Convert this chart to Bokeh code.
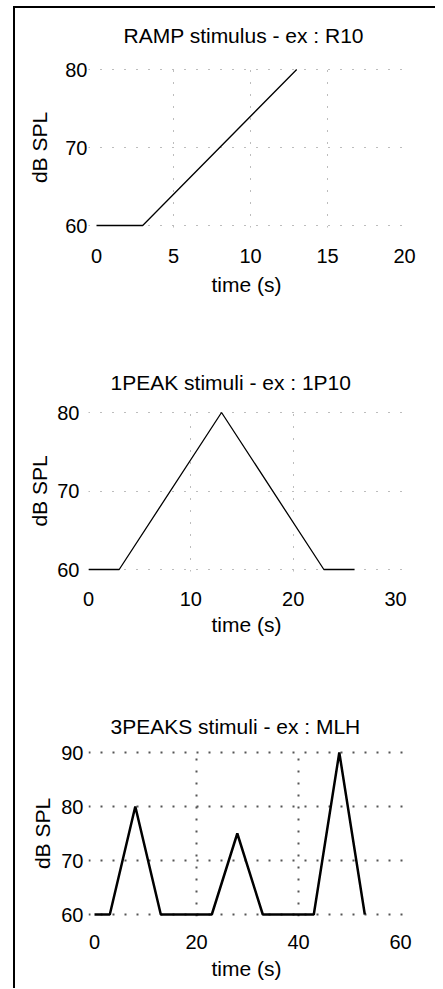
from bokeh.plotting import figure
from bokeh.layouts import column
from bokeh.models import Range1d, FixedTicker
from bokeh.embed import file_html
from bokeh.resources import INLINE

# ---- data ----
ramp_t = [0, 3, 13]
ramp_db = [60, 60, 80]
ramp_xticks = [0, 5, 10, 15, 20]
ramp_yticks = [60, 70, 80]

peak1_t = [0, 3, 13, 23, 26]
peak1_db = [60, 60, 80, 60, 60]
peak1_xticks = [0, 10, 20, 30]
peak1_yticks = [60, 70, 80]

peak3_t = [0, 3, 8, 13, 23, 28, 33, 43, 48, 53]
peak3_db = [60, 60, 80, 60, 60, 75, 60, 60, 90, 60]
peak3_xticks = [0, 20, 40, 60]
peak3_yticks = [60, 70, 80, 90]

titles = ["RAMP stimulus - ex : R10", "1PEAK stimuli - ex : 1P10", "3PEAKS stimuli - ex : MLH"]

FONT = "Liberation Sans"

# ---- layout (pixels) ----
FRAME_LEFT = 73      # frame left inside figure (common to all three)
FRAME_W = 316
BORDER_R = 31
PAD = 2              # px of breathing room above/below the data extent


def make(t, db, xticks, yticks, title, cfg):
    x0, x1 = xticks[0], xticks[-1]
    y0, y1 = yticks[0], yticks[-1]
    xs = cfg["xpx"] / (x1 - x0)               # px per unit
    ys = cfg["ypx"] / (y1 - y0)
    xr = Range1d(x0 - cfg["xl"] / xs, x1 + (FRAME_W - cfg["xl"] - cfg["xpx"]) / xs)
    yr = Range1d(y0 - PAD / ys, y1 + PAD / ys)
    p = figure(frame_width=FRAME_W, frame_height=int(round(cfg["ypx"] + 2 * PAD)),
               min_border_left=FRAME_LEFT, min_border_right=BORDER_R,
               min_border_top=cfg["bt"], min_border_bottom=cfg["bb"],
               x_range=xr, y_range=yr,
               output_backend="svg", toolbar_location=None,
               title=title)
    p.outline_line_color = None
    p.background_fill_color = "white"
    p.border_fill_alpha = 0
    p.title.text_font = FONT
    p.title.text_font_size = "21px"
    p.title.text_font_style = "normal"
    p.title.text_color = "black"
    p.title.align = "left"
    p.title.offset = cfg["toff"]
    p.title.standoff = cfg["tst"]
    for ax in (p.xaxis[0], p.yaxis[0]):
        ax.axis_line_color = None
        ax.major_tick_line_color = None
        ax.minor_tick_line_color = None
        ax.major_tick_out = 0
        ax.major_tick_in = 0
        ax.major_label_text_font = FONT
        ax.major_label_text_font_size = "20px"
        ax.major_label_text_color = "black"
        ax.axis_label_text_font = FONT
        ax.axis_label_text_font_size = "21px"
        ax.axis_label_text_font_style = "normal"
        ax.axis_label_text_color = "black"
    p.xaxis.ticker = FixedTicker(ticks=xticks)
    p.yaxis.ticker = FixedTicker(ticks=yticks)
    p.xaxis.axis_label = "time (s)"
    p.yaxis.axis_label = "dB SPL"
    p.xaxis.major_label_standoff = cfg["xls"]
    p.xaxis.axis_label_standoff = cfg["xas"]
    p.yaxis.major_label_standoff = cfg["yls"]
    p.yaxis.axis_label_standoff = cfg["yas"]
    p.xgrid.ticker = FixedTicker(ticks=xticks[1:-1])
    p.ygrid.ticker = FixedTicker(ticks=yticks)
    p.ygrid.bounds = (x0, x1)
    for g in (p.xgrid[0], p.ygrid[0]):
        g.grid_line_color = cfg["gc"]
        g.grid_line_width = cfg["gw"]
        g.grid_line_dash = cfg["gd"]
    p.line(t, db, line_color="black", line_width=cfg["lw"])
    return p


# xl: pixel offset of first x tick from frame left; xpx / ypx: pixel span of tick extent
cfg1 = dict(xl=8, xpx=308, ypx=156, bt=67, bb=123, toff=35, tst=41,
            xls=21, xas=7, yls=1, yas=11, gc="#7a7a7a", gw=1, gd="1 11", lw=1.3)
cfg2 = dict(xl=0, xpx=307, ypx=157, bt=60, bb=124, toff=22, tst=34,
            xls=20, xas=4, yls=9, yas=3, gc="#7a7a7a", gw=1, gd="1 11", lw=1.3)
cfg3 = dict(xl=6, xpx=306, ypx=162, bt=55, bb=72, toff=22, tst=25,
            xls=18, xas=5, yls=5, yas=4, gc="#555555", gw=2, gd="2 10", lw=2.5)

p1 = make(ramp_t, ramp_db, ramp_xticks, ramp_yticks, titles[0], cfg1)
p2 = make(peak1_t, peak1_db, peak1_xticks, peak1_yticks, titles[1], cfg2)
p3 = make(peak3_t, peak3_db, peak3_xticks, peak3_yticks, titles[2], cfg3)
p1.margin = (-8, 0, 0, 0)

layout = column(p1, p2, p3, spacing=0,
                styles={"border-left": "2px solid black", "border-top": "2px solid black",
                        "margin-left": "13px", "margin-top": "6px"})

open("out.html", "w").write(file_html(layout, INLINE))
